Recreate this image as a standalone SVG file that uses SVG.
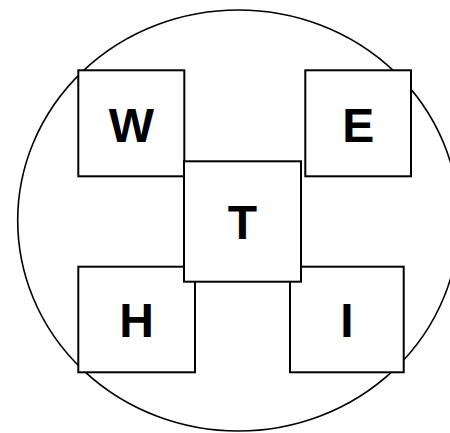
<svg xmlns="http://www.w3.org/2000/svg" width="450" height="433" viewBox="0 0 450 433">
<style>
.box{fill:#fff;stroke:#000;stroke-width:2}
.lbl{font-family:"Liberation Sans",Arial,sans-serif;font-weight:bold;font-size:48px;text-anchor:middle;fill:#000}
</style>
<rect width="450" height="433" fill="#fff"/>
<g id="connectors"></g>
<g id="circle"><ellipse cx="238.4" cy="220.5" rx="220.7" ry="210.5" fill="#fff" stroke="#000" stroke-width="1.6"/></g>
<g id="W"><rect class="box" x="78.3" y="70.3" width="106" height="106"/><text class="lbl" x="131.3" y="141.5">W</text></g>
<g id="E"><rect class="box" x="305.3" y="70.3" width="105.7" height="106"/><text class="lbl" x="358.2" y="141.5">E</text></g>
<g id="H"><rect class="box" x="78.3" y="266.7" width="116.7" height="105.6"/><text class="lbl" x="136.7" y="337.3">H</text></g>
<g id="I"><rect class="box" x="290" y="266.7" width="113.7" height="105.6"/><text class="lbl" x="346.8" y="337.3">I</text></g>
<g id="T"><rect class="box" x="184" y="161.3" width="117" height="120.4"/><text class="lbl" x="242.5" y="239.3">T</text></g>
</svg>
